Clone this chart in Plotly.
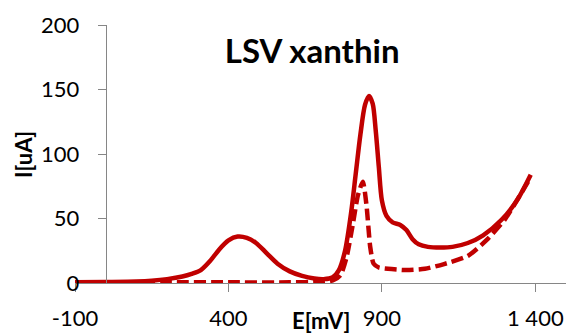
import plotly.graph_objects as go

# LSV scan of xanthine: potential E [mV] vs current I [uA]
e_solid = [-100, 0, 100, 150, 200, 250, 280, 310, 340, 370, 400, 430, 460, 490,
           525, 560, 600, 640, 680, 710, 740, 760, 780, 800, 815, 830, 845, 858,
           870, 880, 890, 900, 915, 935, 960, 980, 1000, 1020, 1050, 1090, 1130,
           1180, 1230, 1290, 1340, 1385]
i_solid = [0.5, 0.8, 1.2, 1.8, 3, 5, 7, 10, 17, 26, 33, 36, 35, 31,
           23, 15, 9, 5.5, 3.5, 3, 4.5, 10, 25, 55, 85, 115, 138, 145,
           139, 118, 90, 64, 52, 47, 45, 41, 34, 30, 28, 27.5, 28,
           31, 37, 49, 64, 84]

e_dash = [-100, 200, 400, 600, 700, 740, 765, 785, 805, 822, 838, 850, 862,
          873, 890, 920, 980, 1040, 1100, 1180, 1240, 1300, 1340, 1385]
i_dash = [0.5, 0.5, 0.5, 0.5, 1, 2, 6, 20, 45, 68, 78.5, 60, 28,
          15, 12, 11, 10, 11, 14.5, 21, 33, 49, 64, 82]

x_ticks = [-100, 400, 900, 1400]
x_tick_text = ["-100", "400", "900", "1 400"]
y_ticks = [0, 50, 100, 150, 200]

RED = "#C00000"
AXIS = "#868686"
FONT = "Lato"

fig = go.Figure()
fig.add_trace(go.Scatter(x=e_solid, y=i_solid, mode="lines",
                         line=dict(color=RED, width=4.5, shape="spline", smoothing=0.8),
                         showlegend=False))
fig.add_trace(go.Scatter(x=e_dash, y=i_dash, mode="lines",
                         line=dict(color=RED, width=4.5, dash="12px,5px",
                                   shape="spline", smoothing=0.6),
                         showlegend=False))

x_range = [-100, 1500]
y_range = [0, 200]
y_pos = (0 - x_range[0]) / (x_range[1] - x_range[0])

common_x = dict(range=x_range, tickvals=x_ticks, showgrid=False, zeroline=False,
                ticklen=8, tickcolor=AXIS, tickwidth=1)
common_y = dict(range=y_range, tickvals=y_ticks, showgrid=False, zeroline=False,
                ticklen=8, tickcolor=AXIS, tickwidth=1)

fig.update_layout(
    width=568, height=336,
    margin=dict(l=75, r=2, t=25, b=53),
    paper_bgcolor="white", plot_bgcolor="white",
    font=dict(family=FONT, size=22, color="black"),
    title=dict(text="<b>LSV xanthin</b>", font=dict(family=FONT, size=33, color="black"),
               x=0.483, xref="paper", xanchor="center", y=0.848, yanchor="middle"),
    xaxis=dict(**common_x, ticktext=x_tick_text, ticks="outside", showline=True,
               linecolor=AXIS, linewidth=1, anchor="y", ticklabelstandoff=8),
    xaxis2=dict(**common_x, overlaying="x", anchor="y", ticks="inside",
                showticklabels=False, showline=False),
    yaxis=dict(**common_y, ticks="outside", showline=True, linecolor=AXIS, linewidth=1,
               anchor="free", position=y_pos, ticklabelstandoff=14),
    yaxis2=dict(**common_y, overlaying="y", anchor="free", position=y_pos,
                ticks="inside", showticklabels=False, showline=False),
    annotations=[
        dict(text="<b>E[mV]</b>", xref="paper", yref="paper", x=0.5, y=-0.147,
             xanchor="center", yanchor="middle", showarrow=False,
             font=dict(family=FONT, size=22, color="black")),
        dict(text="<b>I[uA]</b>", xref="paper", yref="paper", x=-0.106, y=0.5,
             xanchor="center", yanchor="middle", showarrow=False, textangle=-90,
             font=dict(family=FONT, size=22, color="black")),
    ],
)

fig.write_html("out.html")
